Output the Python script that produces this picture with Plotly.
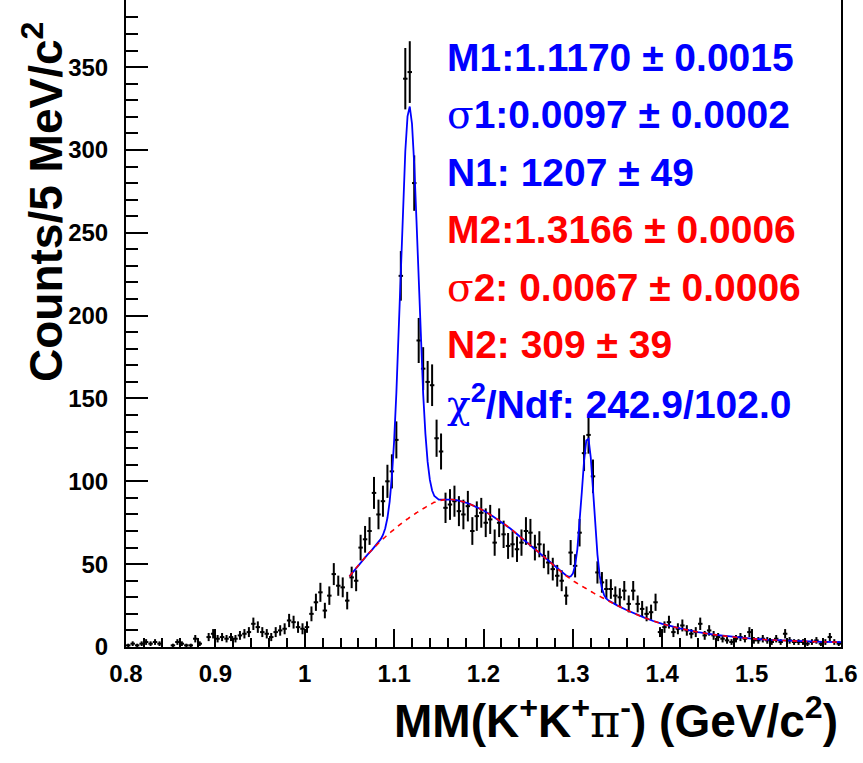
import numpy as np
import plotly.graph_objects as go

# Histogram: missing mass, 5 MeV bins from 0.8 to 1.6 GeV/c^2
bin_lo = 0.8
bin_w = 0.005
counts = [
    1, 2, 1, 2, 3, 2, 3, 2, 0, 0,
    1, 3, 2, 1, 1, 5, 2, 0, 6, 8,
    5, 6, 5, 6, 5, 7, 8, 9, 14, 12,
    9, 8, 6, 9, 10, 11, 16, 15, 12, 11,
    12, 20, 27, 33, 22, 31, 44, 37, 36, 28,
    42, 40, 60, 65, 70, 93, 80, 88, 100, 106,
    125, 224, 343, 347, 280, 185, 168, 160, 158, 126,
    118, 84, 86, 88, 82, 80, 85, 70, 79, 81,
    75, 77, 63, 75, 68, 61, 62, 59, 63, 70,
    69, 60, 62, 55, 51, 47, 43, 40, 31, 57,
    49, 69, 117, 128, 103, 45, 39, 35, 35, 31,
    30, 34, 26, 34, 26, 23, 20, 21, 27, 9,
    12, 15, 9, 11, 13, 10, 8, 9, 14, 7,
    10, 7, 6, 5, 4, 3, 5, 6, 5, 9,
    4, 4, 5, 4, 3, 5, 3, 8, 4, 3,
    3, 3, 2, 3, 4, 2, 3, 6, 3, 2,
]

# Background component of the fit (red dashed), values along the fit range
bg_mass = [
    1.050, 1.055, 1.060, 1.065, 1.070, 1.075, 1.080, 1.085, 1.0875, 1.090,
    1.0925, 1.095, 1.0975, 1.100, 1.1025, 1.105, 1.1075, 1.110, 1.1125, 1.115,
    1.1175, 1.120, 1.1225, 1.125, 1.1275, 1.130, 1.1325, 1.135, 1.1375, 1.140,
    1.1425, 1.145, 1.150, 1.155, 1.160, 1.165, 1.170, 1.175, 1.180, 1.185,
    1.190, 1.195, 1.200, 1.210, 1.220, 1.230, 1.240, 1.250, 1.260, 1.270,
    1.280, 1.285, 1.290, 1.2925, 1.295, 1.2975, 1.300, 1.3025, 1.305, 1.3075,
    1.310, 1.3125, 1.315, 1.3175, 1.320, 1.3225, 1.325, 1.3275, 1.330, 1.3325,
    1.335, 1.3375, 1.340, 1.345, 1.350, 1.360, 1.370, 1.380, 1.390, 1.400,
    1.420, 1.440, 1.460, 1.480, 1.500, 1.520, 1.540, 1.560, 1.580, 1.600,
]
bg_counts = [
    42.6, 46.0, 49.3, 52.5, 55.6, 58.5, 61.3, 64.0, 65.2, 66.4,
    67.6, 68.8, 69.9, 71.0, 72.1, 73.2, 74.3, 75.3, 76.3, 77.3,
    78.3, 79.2, 80.1, 81.0, 81.8, 82.7, 83.5, 84.3, 85.1, 85.9,
    86.6, 87.3, 88.2, 88.8, 89.0, 89.0, 88.6, 88.0, 87.2, 86.2,
    85.0, 83.8, 82.4, 79.0, 75.5, 71.5, 67.0, 62.5, 58.0, 53.3,
    48.6, 46.2, 44.0, 43.0, 42.0, 41.0, 40.0, 39.2, 38.4, 37.6,
    36.8, 36.0, 35.2, 34.4, 33.6, 32.8, 32.0, 31.3, 30.6, 29.9,
    29.2, 28.5, 27.8, 26.4, 25.0, 22.3, 19.9, 17.7, 15.7, 14.0,
    11.2, 9.0, 7.3, 6.0, 5.0, 4.3, 3.8, 3.4, 3.1, 2.9,
]

# Signal peaks: mean, width, yield
M1, S1, N1 = 1.1170, 0.0097, 1207
M2, S2, N2 = 1.3166, 0.0067, 309

x_ticks = [0.8, 0.9, 1.0, 1.1, 1.2, 1.3, 1.4, 1.5, 1.6]
x_tick_text = ["0.8", "0.9", "1", "1.1", "1.2", "1.3", "1.4", "1.5", "1.6"]
y_ticks = [0, 50, 100, 150, 200, 250, 300, 350]

GREEK = "<span style=\"font-family:'DejaVu Serif';font-weight:normal\">{}</span>"

labels = [
    ("M1:1.1170 ± 0.0015", "#0000ff"),
    (GREEK.format("σ") + "1:0.0097 ± 0.0002", "#0000ff"),
    ("N1: 1207 ± 49", "#0000ff"),
    ("M2:1.3166 ± 0.0006", "#ff0000"),
    (GREEK.format("σ") + "2: 0.0067 ± 0.0006", "#ff0000"),
    ("N2: 309 ± 39", "#ff0000"),
    (GREEK.format("χ") + "<sup>2</sup>/Ndf: 242.9/102.0", "#0000ff"),
]

# ---- derived arrays ----
counts_arr = np.array(counts, dtype=float)
centers = bin_lo + bin_w * (np.arange(len(counts)) + 0.5)
mask = counts_arr > 0
xc = centers[mask]
yc = counts_arr[mask]
err = np.sqrt(yc)

bm = np.array(bg_mass)
bc = np.array(bg_counts)


def gauss_yield(x, m, s, n):
    amp = n * bin_w / (np.sqrt(2 * np.pi) * s)
    return amp * np.exp(-0.5 * ((x - m) / s) ** 2)


total = bc + gauss_yield(bm, M1, S1, N1) + gauss_yield(bm, M2, S2, N2)

fig = go.Figure()

fig.add_trace(go.Scatter(
    x=xc, y=yc, mode="markers",
    marker=dict(size=1, color="black"),
    error_y=dict(type="data", array=err, visible=True, color="black", thickness=2, width=0),
    error_x=dict(type="constant", value=bin_w / 2, visible=True, color="black", thickness=2, width=0),
    showlegend=False, hoverinfo="skip",
))

fig.add_trace(go.Scatter(
    x=bm, y=total, mode="lines",
    line=dict(color="#0000ff", width=1.8),
    showlegend=False, hoverinfo="skip",
))

fig.add_trace(go.Scatter(
    x=bm, y=bc, mode="lines",
    line=dict(color="#ff0000", width=1.6, dash="5px,5px", shape="spline"),
    showlegend=False, hoverinfo="skip",
))

tick_font = dict(family="Liberation Sans", size=24, color="black", weight="bold")

fig.update_layout(
    width=863, height=763,
    margin=dict(l=126, r=22, t=0, b=116),
    plot_bgcolor="white", paper_bgcolor="white",
    xaxis=dict(
        range=[0.8, 1.6], showgrid=False, zeroline=False,
        showline=True, linecolor="black", linewidth=2,
        ticks="inside", ticklen=18, tickwidth=2, tickcolor="black",
        tickvals=x_ticks, ticktext=x_tick_text,
        minor=dict(ticks="inside", ticklen=9, tickwidth=2, tickcolor="black", dtick=0.02, tick0=0.8),
        tickfont=tick_font, ticklabelstandoff=4,
    ),
    yaxis=dict(
        range=[0, 390.5], showgrid=False, zeroline=False,
        showline=True, linecolor="black", linewidth=2, mirror=True,
        ticks="inside", ticklen=22, tickwidth=2, tickcolor="black",
        tickvals=y_ticks,
        minor=dict(ticks="inside", ticklen=12, tickwidth=2, tickcolor="black", dtick=10, tick0=0),
        tickfont=tick_font, ticklabelstandoff=11,
    ),
)

title_font = dict(family="Liberation Sans", size=46, color="black", weight="bold")

plot_h = 647.0
plot_w = 715.0


def px_x(px):
    return (px - 126) / plot_w


def px_y(py):
    return 1 - py / plot_h


fig.add_annotation(
    text="Counts/5 MeV/c<sup>2</sup>", textangle=-90,
    xref="paper", yref="paper", x=px_x(43), y=px_y(202),
    xanchor="center", yanchor="middle", showarrow=False, font=title_font,
)
fig.add_annotation(
    text="MM(K<sup>+</sup>K<sup>+</sup>" + GREEK.format("π") + "<sup>-</sup>) (GeV/c<sup>2</sup>)",
    xref="paper", yref="paper", x=px_x(840), y=px_y(718),
    xanchor="right", yanchor="middle", showarrow=False, font=title_font,
)

label_font_size = 39
for k, (txt, col) in enumerate(labels):
    fig.add_annotation(
        text=txt, xref="paper", yref="paper",
        x=px_x(445), y=px_y(57 + 57.5 * k),
        xanchor="left", yanchor="middle", showarrow=False,
        font=dict(family="Liberation Sans", size=label_font_size, color=col, weight="bold"),
    )

fig.write_html("out.html")
